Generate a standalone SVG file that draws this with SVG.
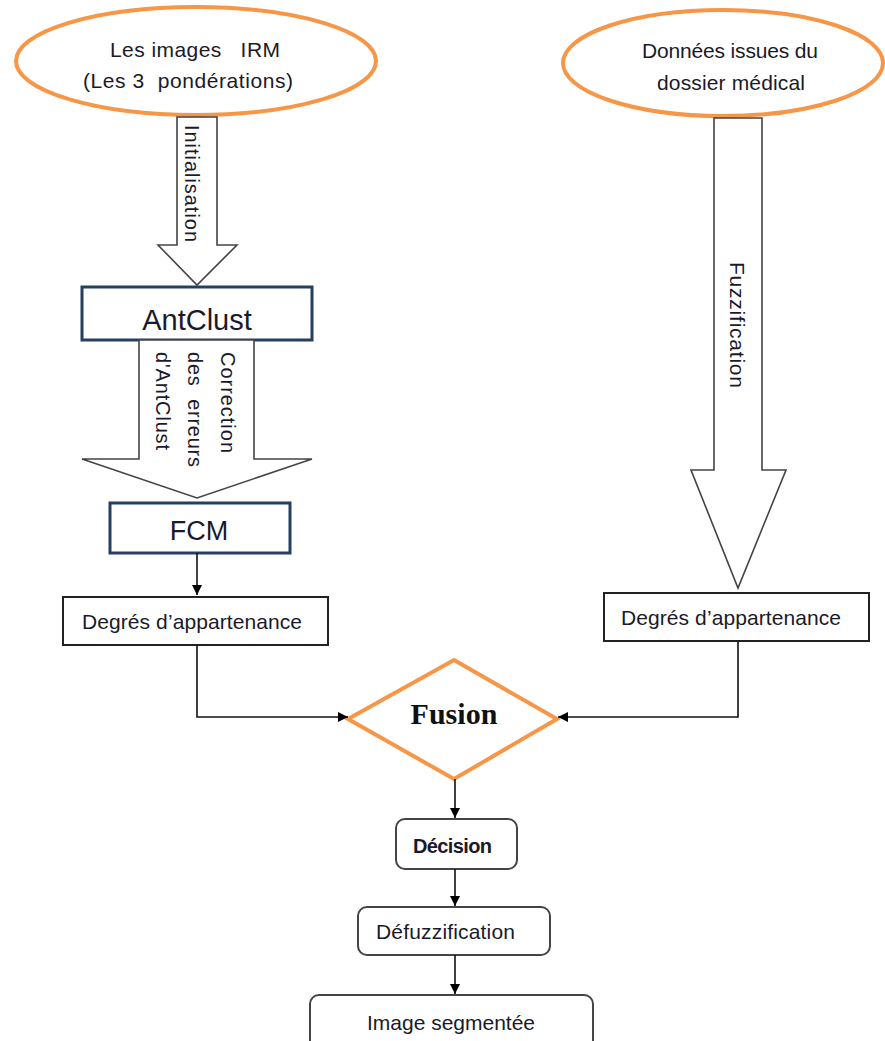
<svg xmlns="http://www.w3.org/2000/svg" width="885" height="1041" viewBox="0 0 885 1041">
<defs>
<marker id="ah" viewBox="0 0 10 10" refX="10" refY="5" markerWidth="10" markerHeight="10" markerUnits="userSpaceOnUse" orient="auto">
<path d="M0,0 L10,5 L0,10 z" fill="#000"/>
</marker>
<style>
.oval{fill:#fff;stroke:#f79646;stroke-width:4}
.block{fill:#fff;stroke:#444;stroke-width:1.6}
.navy{fill:#fff;stroke:#243f60;stroke-width:3}
.plain{fill:#fff;stroke:#222;stroke-width:2}
.round{fill:#fff;stroke:#444;stroke-width:2}
.t{font-family:"Liberation Sans",Arial,sans-serif;fill:#1a1a2a;text-anchor:middle}
.conn{fill:none;stroke:#111;stroke-width:1.6}
</style>
</defs>
<rect width="885" height="1041" fill="#fff"/>

<g id="irm">
<ellipse class="oval" cx="196" cy="61" rx="180" ry="54"/>
<text class="t" x="195" y="57" font-size="21" textLength="170" xml:space="preserve">Les images   IRM</text>
<text class="t" x="188" y="88" font-size="21" textLength="210" xml:space="preserve">(Les 3  pondérations)</text>
</g>

<g id="dossier">
<ellipse class="oval" cx="723" cy="63" rx="160" ry="53"/>
<text class="t" x="730" y="58" font-size="21" textLength="176">Données issues du</text>
<text class="t" x="731" y="90" font-size="21" textLength="148">dossier médical</text>
</g>

<g id="initialisation">
<path class="block" d="M177,117 L217,117 L217,245 L237,245 L197,285 L158,245 L177,245 Z"/>
<text class="t" font-size="20" textLength="117" transform="translate(185,183.5) rotate(90)">Initialisation</text>
</g>

<g id="antclust">
<rect class="navy" x="82" y="287" width="230" height="53"/>
<text class="t" x="197" y="330" font-size="29">AntClust</text>
</g>

<g id="correction">
<path class="block" d="M139,340 L254,340 L254,459 L312,459 L197,498 L82,459 L139,459 Z"/>
<text class="t" font-size="20" textLength="101" transform="translate(221,402.5) rotate(90)">Correction</text>
<text class="t" font-size="20" textLength="115" transform="translate(188,409.5) rotate(90)" xml:space="preserve">des  erreurs</text>
<text class="t" font-size="20" textLength="98" transform="translate(156,401) rotate(90)">d'AntClust</text>
</g>

<g id="fcm">
<rect class="navy" x="110" y="503" width="180" height="50"/>
<text class="t" x="199" y="540" font-size="27">FCM</text>
</g>

<g id="fuzzification">
<path class="block" d="M714,118 L762,118 L762,470 L786,470 L738,588 L691,470 L714,470 Z"/>
<text class="t" font-size="21" textLength="126" transform="translate(730,325) rotate(90)">Fuzzification</text>
</g>

<g id="degres1">
<rect class="plain" x="63" y="597" width="265" height="48"/>
<text class="t" x="192" y="629" font-size="21" textLength="220">Degrés d’appartenance</text>
</g>

<g id="degres2">
<rect class="plain" x="604" y="593" width="265" height="48"/>
<text class="t" x="731" y="625" font-size="21" textLength="220">Degrés d’appartenance</text>
</g>

<g id="fusion">
<path d="M454,660 L557,719 L454,779 L348,719 Z" fill="#fff" stroke="#f79646" stroke-width="4" stroke-linejoin="miter"/>
<text x="454" y="724" font-family="'Liberation Serif','Times New Roman',serif" font-weight="bold" font-size="30" textLength="87" fill="#111" text-anchor="middle">Fusion</text>
</g>

<g id="decision">
<rect class="round" x="396" y="819" width="121" height="50" rx="9"/>
<text class="t" x="452.5" y="853" font-size="20" font-weight="bold" textLength="79">Décision</text>
</g>

<g id="defuzzification">
<rect class="round" x="358" y="907" width="192" height="48" rx="9"/>
<text class="t" x="445.5" y="939" font-size="21" textLength="139">Défuzzification</text>
</g>

<g id="image">
<rect class="round" x="310" y="995" width="283" height="60" rx="9"/>
<text class="t" x="451" y="1030" font-size="21" textLength="168">Image segmentée</text>
</g>

<g id="connectors">
<path class="conn" d="M197,553 L197,595" marker-end="url(#ah)"/>
<path class="conn" d="M197,645 L197,717 L348,717" marker-end="url(#ah)"/>
<path class="conn" d="M738,641 L738,717 L558,717" marker-end="url(#ah)"/>
<path class="conn" d="M455,779 L455,818" marker-end="url(#ah)"/>
<path class="conn" d="M455,869 L455,906" marker-end="url(#ah)"/>
<path class="conn" d="M455,955 L455,994" marker-end="url(#ah)"/>
</g>
</svg>
